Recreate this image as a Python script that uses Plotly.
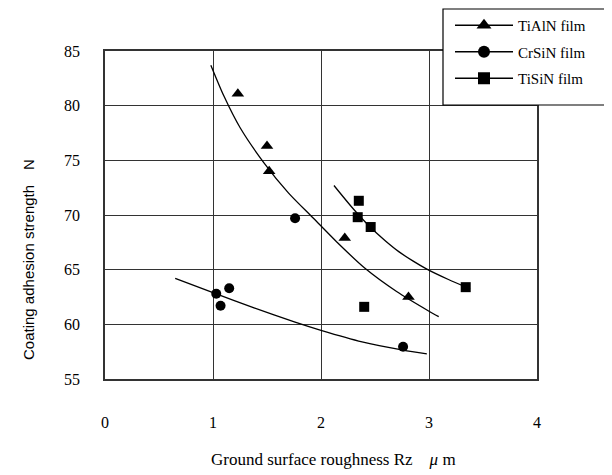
import plotly.graph_objects as go

# ---- data ----
tialn_x = [1.23, 1.50, 1.52, 2.22, 2.81]
tialn_y = [81.1, 76.3, 74.0, 67.9, 62.5]

crsin_x = [1.03, 1.07, 1.15, 1.76, 2.76]
crsin_y = [62.8, 61.7, 63.3, 69.7, 57.95]

tisin_x = [2.34, 2.35, 2.40, 2.46, 3.34]
tisin_y = [69.8, 71.3, 61.6, 68.9, 63.4]

# trend curves
tialn_fit_x = [0.98, 1.10, 1.25, 1.47, 1.70, 1.93, 2.17, 2.41, 2.70, 3.00, 3.09]
tialn_fit_y = [83.7, 80.9, 78.0, 74.8, 72.0, 69.7, 67.3, 65.1, 63.0, 61.2, 60.7]

crsin_fit_x = [0.65, 1.00, 1.38, 1.76, 2.00, 2.38, 2.76, 2.98]
crsin_fit_y = [64.2, 62.9, 61.5, 60.2, 59.45, 58.4, 57.65, 57.3]

tisin_fit_x = [2.12, 2.30, 2.46, 2.60, 2.72, 2.85, 2.98, 3.18, 3.38]
tisin_fit_y = [72.7, 70.55, 68.85, 67.6, 66.65, 65.8, 65.05, 64.1, 63.25]

x_ticks = [0, 1, 2, 3, 4]
y_ticks = [55, 60, 65, 70, 75, 80, 85]

names = ["TiAlN film", "CrSiN film", "TiSiN film"]
symbols = ["triangle-up", "circle", "square"]

SERIF = "Liberation Serif"
SANS = "Liberation Sans"

# The page body adds an 8px offset, so the figure is 8px smaller each way
W, H = 604, 467
L, R, T, B = 97, 75, 43, 96
PW, PH = W - L - R, H - T - B   # 432 x 328


def px_x(px):   # reference pixel -> paper x
    return (px - 8 - L) / PW


def px_y(py):   # reference pixel -> paper y
    return (H - B - (py - 8)) / PH


fig = go.Figure()

series = [
    (tialn_x, tialn_y, tialn_fit_x, tialn_fit_y),
    (crsin_x, crsin_y, crsin_fit_x, crsin_fit_y),
    (tisin_x, tisin_y, tisin_fit_x, tisin_fit_y),
]

for i, (px, py, fx, fy) in enumerate(series):
    grp = f"g{i}"
    fig.add_trace(go.Scatter(
        x=fx, y=fy, mode="lines",
        line=dict(color="black", width=1.3, shape="spline", smoothing=0.7),
        showlegend=False, legendgroup=grp, hoverinfo="skip"))
    fig.add_trace(go.Scatter(
        x=px, y=py, mode="markers",
        marker=dict(symbol=symbols[i], size=10 if i != 0 else 11, color="black"),
        showlegend=False, legendgroup=grp, name=names[i]))
    # legend entry (line + marker sample)
    fig.add_trace(go.Scatter(
        x=[None], y=[None], mode="lines+markers", name=names[i],
        line=dict(color="black", width=1.3),
        marker=dict(symbol=symbols[i], size=12 if i != 0 else 13, color="black"),
        legendgroup=grp))

fig.update_layout(
    width=W, height=H,
    margin=dict(l=L, r=R, t=T, b=B, autoexpand=False),
    paper_bgcolor="white", plot_bgcolor="white",
    showlegend=True,
    legend=dict(
        x=px_x(450), y=px_y(9), xanchor="left", yanchor="top",
        bgcolor="rgba(0,0,0,0)", borderwidth=0,
        font=dict(family=SERIF, size=15, color="black"),
        traceorder="grouped", tracegroupgap=4, itemwidth=58,
    ),
    # legend frame (white box overlapping the plot's top-right corner)
    shapes=[dict(type="rect", xref="paper", yref="paper",
                 x0=px_x(443), x1=px_x(640), y0=px_y(105), y1=px_y(9),
                 line=dict(color="black", width=1.2), fillcolor="white",
                 layer="above")],
    xaxis=dict(
        range=[0, 4], tickvals=x_ticks, ticktext=[str(v) for v in x_ticks],
        showgrid=True, gridcolor="#333333", gridwidth=1.2,
        showline=True, linecolor="#333333", linewidth=1.5, mirror=True,
        zeroline=False, ticks="", ticklabelstandoff=28,
        tickfont=dict(family=SERIF, size=16, color="black"),
    ),
    yaxis=dict(
        range=[55, 85], tickvals=y_ticks, ticktext=[str(v) for v in y_ticks],
        showgrid=True, gridcolor="#333333", gridwidth=1.2,
        showline=True, linecolor="#333333", linewidth=1.5, mirror=True,
        zeroline=False, ticks="", ticklabelstandoff=20,
        tickfont=dict(family=SERIF, size=16, color="black"),
    ),
    annotations=[
        dict(text="Ground surface roughness Rz\u3000<i>\u03bc</i> m",
             xref="paper", yref="paper", x=px_x(333), y=px_y(459),
             xanchor="center", yanchor="middle", showarrow=False,
             font=dict(family=SERIF, size=17, color="black")),
        dict(text="Coating adhesion strength\u3000N",
             xref="paper", yref="paper", x=px_x(28), y=px_y(260),
             xanchor="center", yanchor="middle", showarrow=False, textangle=-90,
             font=dict(family=SANS, size=15, color="black")),
    ],
)

fig.write_html("out.html")
